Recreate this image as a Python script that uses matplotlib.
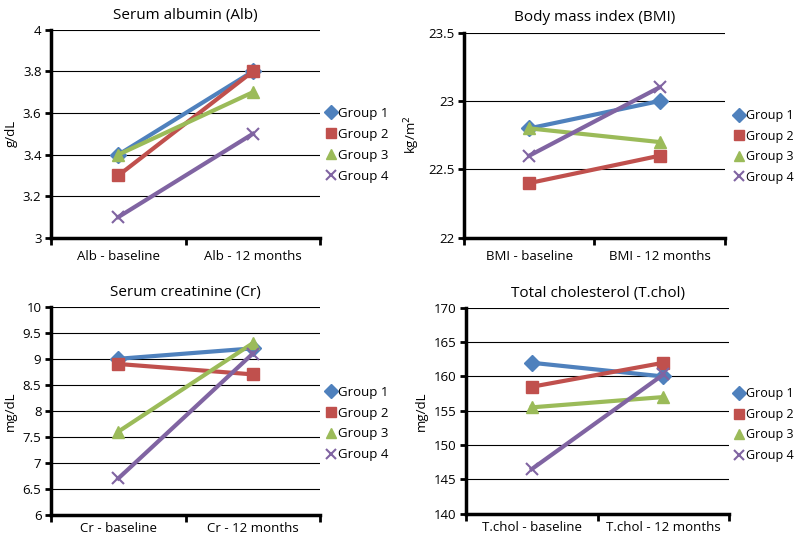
import matplotlib.pyplot as plt
from matplotlib.lines import Line2D

plt.rcParams["font.family"] = ["Open Sans", "DejaVu Sans"]
plt.rcParams["font.size"] = 9

groups = ["Group 1", "Group 2", "Group 3", "Group 4"]
colors = ["#4F81BD", "#C0504D", "#9BBB59", "#8064A2"]
markers = ["D", "s", "^", "x"]

alb_cats = ["Alb - baseline", "Alb - 12 months"]
alb = [[3.4, 3.8], [3.3, 3.8], [3.4, 3.7], [3.1, 3.5]]
alb_ticks = [3, 3.2, 3.4, 3.6, 3.8, 4]

bmi_cats = ["BMI - baseline", "BMI - 12 months"]
bmi = [[22.8, 23.0], [22.4, 22.6], [22.8, 22.7], [22.6, 23.1]]
bmi_ticks = [22, 22.5, 23, 23.5]

cr_cats = ["Cr - baseline", "Cr - 12 months"]
cr = [[9.0, 9.2], [8.9, 8.7], [7.6, 9.3], [6.7, 9.1]]
cr_ticks = [6, 6.5, 7, 7.5, 8, 8.5, 9, 9.5, 10]

chol_cats = ["T.chol - baseline", "T.chol - 12 months"]
chol = [[162, 160], [158.5, 162], [155.5, 157], [146.5, 160.3]]
chol_ticks = [140, 145, 150, 155, 160, 165, 170]

fig = plt.figure(figsize=(8, 5.43), dpi=100)

panels = [
    ([0.064, 0.562, 0.336, 0.383], "Serum albumin (Alb)", "g/dL", alb_cats, alb, alb_ticks, (0.408, 0.733), 9, 9.5),
    ([0.580, 0.562, 0.326, 0.378], "Body mass index (BMI)", "kg/m$^2$", bmi_cats, bmi, bmi_ticks, (0.918, 0.73), 9, 9),
    ([0.064, 0.052, 0.336, 0.383], "Serum creatinine (Cr)", "mg/dL", cr_cats, cr, cr_ticks, (0.408, 0.22), 5, 9.5),
    ([0.5825, 0.054, 0.329, 0.379], "Total cholesterol (T.chol)", "mg/dL", chol_cats, chol, chol_ticks, (0.918, 0.218), 5, 9),
]

for rect, title, ylabel, cats, data, yticks, leg_pos, xpad, leg_fs in panels:
    ax = fig.add_axes(rect)
    x = [0, 1]
    for vals, c, m, g in zip(data, colors, markers, groups):
        ms = 9 if m == "x" else 8
        ax.plot(x, vals, color=c, lw=3, marker=m, markersize=ms, markeredgewidth=1.5 if m == "x" else 1,
                label=g, zorder=3)
    ax.set_xlim(-0.5, 1.5)
    ax.set_ylim(yticks[0], yticks[-1])
    ax.set_yticks(yticks)
    ax.set_yticklabels([f"{t:g}" for t in yticks], fontsize=9.5)
    ax.set_xticks([-0.5, 0.5, 1.5])
    ax.set_xticklabels([])
    ax.set_xticks(x, minor=True)
    ax.set_xticklabels(cats, minor=True, fontsize=9.5)
    ax.tick_params(axis="x", which="minor", length=0, pad=xpad)
    ax.tick_params(axis="x", which="major", length=5, width=2, direction="out")
    ax.tick_params(axis="y", length=4, width=2, direction="out", pad=3)
    ax.yaxis.grid(True, color="black", lw=0.8)
    ax.set_axisbelow(True)
    for s in ["top", "right"]:
        ax.spines[s].set_visible(False)
    for s in ["left", "bottom"]:
        ax.spines[s].set_linewidth(2.5)
    ax.set_title(title, fontsize=11, pad=8)
    ax.set_ylabel(ylabel, fontsize=9.5, labelpad=4)
    handles = [Line2D([], [], color=c, marker=m, lw=0, markersize=7, markeredgewidth=1.5 if m == "x" else 1)
               for c, m in zip(colors, markers)]
    fig.legend(handles, groups, loc="center left", bbox_to_anchor=leg_pos, frameon=False,
               fontsize=leg_fs, handletextpad=0.2, labelspacing=0.6, borderaxespad=0, borderpad=0,
               handlelength=0.7)

fig.savefig("out.png", dpi=100)
